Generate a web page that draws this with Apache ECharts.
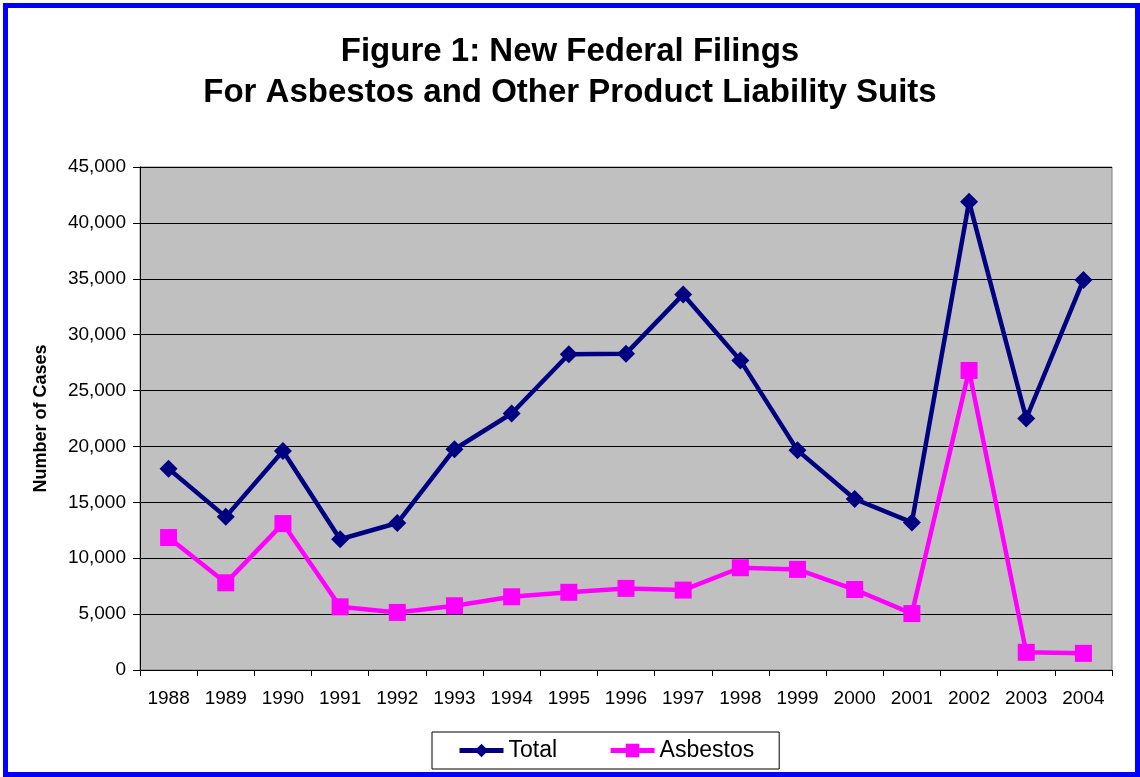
<!DOCTYPE html>
<html>
<head>
<meta charset="utf-8">
<script src="https://cdn.jsdelivr.net/npm/echarts@6/dist/echarts.min.js"></script>
<style>
  html, body { margin: 0; padding: 0; background: #fff; }
  #chart { width: 1140px; height: 777px; }
</style>
</head>
<body>
<div id="chart"></div>
<script>
const years = ['1988', '1989', '1990', '1991', '1992', '1993', '1994', '1995', '1996',
  '1997', '1998', '1999', '2000', '2001', '2002', '2003', '2004']
const totalCases = [18000, 13700, 19600, 11700, 13150, 19750, 22950, 28250, 28300,
  33600, 27700, 19650, 15300, 13200, 41900, 22500, 34900]
const asbestosCases = [11850, 7800, 13100, 5650, 5150, 5750, 6550, 6950, 7300,
  7150, 9150, 9000, 7200, 5050, 26800, 1580, 1490]

const font = 'Liberation Sans, Arial, sans-serif'
const chart = echarts.init(document.getElementById('chart'))

chart.setOption({
  animation: false,
  backgroundColor: '#fff',
  textStyle: { fontFamily: font },
  title: {
    text: 'Figure 1: New Federal Filings\nFor Asbestos and Other Product Liability Suits',
    left: 'center',
    top: 26,
    textStyle: { fontFamily: font, fontSize: 33, fontWeight: 'bold', color: '#000', lineHeight: 41 },
  },
  graphic: [{
    type: 'rect',
    shape: { x: 5.5, y: 5.5, width: 1132, height: 769 },
    style: { fill: 'none', stroke: '#0000ff', lineWidth: 5 },
    z: 100,
  }],
  legend: {
    left: 432,
    top: 732,
    padding: [7, 25],
    backgroundColor: '#fff',
    borderColor: '#000',
    borderWidth: 1,
    borderRadius: 0,
    itemWidth: 44,
    itemHeight: 17,
    itemGap: 51,
    lineStyle: { width: 5 },
    textStyle: { fontFamily: font, fontSize: 23, color: '#000', lineHeight: 23 },
    data: ['Total', 'Asbestos'],
  },
  grid: {
    left: 140, right: 28, top: 167, bottom: 107,
    show: true,
    backgroundColor: '#c0c0c0',
    borderColor: '#808080',
    borderWidth: 1,
  },
  xAxis: {
    type: 'category',
    data: years,
    boundaryGap: true,
    axisLine: { lineStyle: { color: '#000', width: 1 } },
    axisTick: { show: true, length: 6, lineStyle: { color: '#000' }, alignWithLabel: false },
    axisLabel: { fontFamily: font, fontSize: 19, color: '#000', margin: 19, interval: 0 },
    splitLine: { show: false },
  },
  yAxis: {
    type: 'value',
    min: 0,
    max: 45000,
    interval: 5000,
    name: 'Number of Cases',
    nameLocation: 'middle',
    nameGap: 90,
    nameTextStyle: { fontFamily: font, fontSize: 18, fontWeight: 'bold', color: '#000' },
    axisLine: { show: true, lineStyle: { color: '#000', width: 1 } },
    axisTick: { show: true, length: 7, lineStyle: { color: '#000' } },
    axisLabel: {
      fontFamily: font, fontSize: 19, color: '#000', margin: 14,
      formatter: (v) => v.toLocaleString('en-US'),
    },
    splitLine: { show: true, lineStyle: { color: '#000', width: 1 } },
  },
  series: [
    {
      name: 'Total',
      type: 'line',
      data: totalCases,
      symbol: 'diamond',
      symbolSize: 18,
      lineStyle: { color: '#000080', width: 4.5 },
      itemStyle: { color: '#000080' },
      z: 3,
    },
    {
      name: 'Asbestos',
      type: 'line',
      data: asbestosCases,
      symbol: 'rect',
      symbolSize: 17,
      lineStyle: { color: '#ff00ff', width: 4.5 },
      itemStyle: { color: '#ff00ff' },
      z: 2,
    },
  ],
})
</script>
</body>
</html>
